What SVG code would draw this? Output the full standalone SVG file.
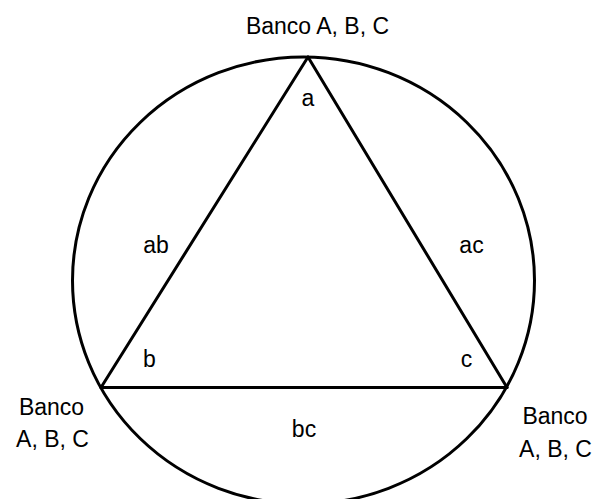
<svg xmlns="http://www.w3.org/2000/svg" width="596" height="499" viewBox="0 0 596 499">
  <style>
    .ln { fill: none; stroke: #000; stroke-width: 3; stroke-linecap: round; stroke-linejoin: round; }
    .t { font-family: "Liberation Sans", Arial, sans-serif; font-size: 23px; fill: #000; text-anchor: middle; }
  </style>
  <rect width="596" height="499" fill="#fff"/>
  <g id="circle">
    <ellipse class="ln" cx="303.5" cy="280.5" rx="231" ry="223.5"/>
  </g>
  <g id="connectors">
    <line class="ln" x1="308" y1="57" x2="101" y2="387.5"/>
    <line class="ln" x1="308" y1="57" x2="507" y2="387.5"/>
    <line class="ln" x1="101" y1="387.5" x2="507" y2="387.5" stroke-width="3.5"/>
  </g>
  <g id="node-top">
    <text class="t" x="317.5" y="34">Banco A, B, C</text>
    <text class="t" x="308" y="106">a</text>
  </g>
  <g id="node-left">
    <text class="t" x="51.5" y="415">Banco</text>
    <text class="t" x="52.5" y="447">A, B, C</text>
    <text class="t" x="149.5" y="367">b</text>
  </g>
  <g id="node-right">
    <text class="t" x="555" y="424">Banco</text>
    <text class="t" x="555.5" y="457">A, B, C</text>
    <text class="t" x="466.5" y="367">c</text>
  </g>
  <g id="edge-labels">
    <text class="t" x="156" y="253">ab</text>
    <text class="t" x="471.5" y="253">ac</text>
    <text class="t" x="304" y="437">bc</text>
  </g>
</svg>
